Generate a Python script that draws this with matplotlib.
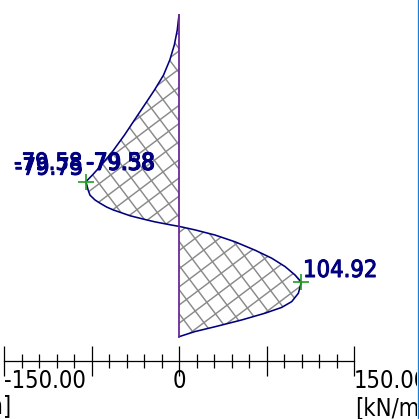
"""
Lateral load distribution along a pile: hatched diagram with extreme
values marked and a horizontal force scale underneath.
"""
import matplotlib
matplotlib.use("Agg")
import matplotlib.pyplot as plt
import matplotlib.patheffects as pe
import numpy as np
from matplotlib.collections import LineCollection
from matplotlib.lines import Line2D
from matplotlib.patches import Rectangle
from matplotlib.path import Path
from matplotlib.ticker import MultipleLocator, FixedLocator

# --- Diagram data: depth along the member [m] and load value [kN/m] ---
depth = [0.00, 0.47, 0.93, 1.40, 1.87, 2.33, 2.80, 3.26, 3.73, 4.20,
         4.66, 4.97, 5.18, 5.44, 5.60, 5.75, 5.85, 5.97, 6.06, 6.15,
         6.24, 6.37, 6.43, 6.48, 6.53, 6.57,
         6.68, 6.84, 7.05, 7.31, 7.56, 7.82, 8.08, 8.30, 8.65, 8.91,
         9.09, 9.27, 9.48, 9.69, 9.84, 10.00]
load = [0.0, -1.5, -4.0, -7.9, -13.3, -21.0, -29.6, -38.1, -46.7, -56.1,
        -66.4, -74.1, -79.75, -77.9, -76.3, -72.0, -67.7, -62.0, -56.3, -49.1,
        -42.0, -27.7, -20.6, -13.5, -6.3, 0.0,
        13.7, 30.9, 48.0, 65.1, 79.5, 90.9, 99.4, 104.92, 102.3, 96.6,
        88.0, 73.7, 53.7, 30.9, 13.7, 0.0]

member_top = 0.0
member_bottom = 10.0

# extreme points (value, depth) and the value labels printed next to them
extreme_value = [-79.75, 104.92]
extreme_depth = [5.18, 8.30]
min_labels = ["-79.58", "-79.75", "-79.58", "-79.38"]
max_labels = ["104.92"]

# scale axis
scale_ticks = [-150, -75, 0, 75, 150]
scale_labels = ["-150.00", "", "0", "", "150.00"]
unit_x = "[kN/m]"
unit_y = "[m]"

# --- styling ---
W = H = 419
DPI = 100
NAVY = "#000080"
MEMBER = "#6a2a9a"
HATCH = "#8a8a8a"
MARK = "#1f9e1f"
FONT = dict(family="DejaVu Sans", stretch="condensed", size=17)
HEAVY = [pe.withStroke(linewidth=0.7, foreground=NAVY)]

# pixel layout helpers
X_LEFT, X_RIGHT = 4, 354          # pixel columns of -150 and +150
TOP_PX, PX_PER_M = 15, 32.17      # member top row and vertical scale
AXIS_ROW = 361                    # row of the scale axis line
HATCH_ANGLES = (37, -53)          # degrees, crossing grid
HATCH_STEP = 14.5                 # pixels between parallel hatch lines

fig = plt.figure(figsize=(W / DPI, H / DPI), dpi=DPI)
fig.patch.set_facecolor("white")

ax = fig.add_axes([X_LEFT / W, 0, (X_RIGHT - X_LEFT) / W, 1])
ax.set_xlim(-150, 150)
ax.set_ylim((H - TOP_PX) / PX_PER_M, -TOP_PX / PX_PER_M)
ax.axis("off")

# area between member axis and diagram, used as clip region for the hatch
area = ax.fill_betweenx(depth, 0, load, facecolor="none", edgecolor="none",
                        linewidth=0)
clip = Path.make_compound_path(*area.get_paths())


def hatch_lines(angle_deg, step):
    """Parallel line segments over the whole figure, in figure fraction."""
    a = np.radians(angle_deg)
    d = np.array([np.cos(a), np.sin(a)])
    n = np.array([-np.sin(a), np.cos(a)])
    c = np.array([W / 2, H / 2])
    segs = []
    for k in np.arange(-45, 46):
        p = c + k * step * n
        p0, p1 = p - 400 * d, p + 400 * d
        segs.append([(p0[0] / W, p0[1] / H), (p1[0] / W, p1[1] / H)])
    return segs


for ang in HATCH_ANGLES:
    lc = LineCollection(hatch_lines(ang, HATCH_STEP), colors=HATCH,
                        linewidths=1.05, transform=fig.transFigure)
    lc.set_clip_path(clip, ax.transData)
    ax.add_collection(lc, autolim=False)

ax.plot(load, depth, color=NAVY, linewidth=1.15, solid_joinstyle="round")
ax.plot([0, 0], [member_top, member_bottom], color=MEMBER, linewidth=1.3)

# extreme markers
ax.plot(extreme_value, extreme_depth, linestyle="none", marker="+",
        markersize=12, markeredgewidth=1.2, color=MARK)

# value labels around the minimum (overlapping, as printed per element end)
xm, ym = extreme_value[0], extreme_depth[0]
min_offsets = [(-2.5, 8.5, "right"), (-2.0, 5.0, "right"),
               (0.0, 8.5, "left"), (0.5, 8.5, "left")]
for txt, (dx, dy, ha) in zip(min_labels, min_offsets):
    ax.annotate(txt, (xm, ym), xytext=(dx, dy), textcoords="offset points",
                ha=ha, va="baseline", color=NAVY, path_effects=HEAVY, **FONT)

ax.annotate(max_labels[0], (extreme_value[1], extreme_depth[1]),
            xytext=(1.2, 3.6), textcoords="offset points",
            ha="left", va="baseline", color=NAVY, path_effects=HEAVY, **FONT)

# --- horizontal force scale ---
sx = fig.add_axes([X_LEFT / W, 1 - AXIS_ROW / H, (X_RIGHT - X_LEFT) / W, 0.0001])
sx.set_xlim(-150, 150)
sx.set_facecolor("none")
for side in ("left", "right", "top"):
    sx.spines[side].set_visible(False)
sx.spines["bottom"].set_linewidth(0.9)
sx.set_yticks([])
sx.xaxis.set_major_locator(FixedLocator(scale_ticks))
sx.xaxis.set_minor_locator(MultipleLocator(15))
sx.set_xticklabels(scale_labels, color="black", **FONT)
sx.tick_params(axis="x", which="major", direction="inout", length=21,
               width=0.9, pad=-4.6)
sx.tick_params(axis="x", which="minor", direction="inout", length=10,
               width=0.9)
for lbl, ha in zip(sx.get_xticklabels(), ["left", "center", "center", "center", "left"]):
    lbl.set_ha(ha)

fig.text(355 / W, 1 - 396 / H, unit_x, ha="left", va="top", color="black", **FONT)
fig.text(11 / W, 1 - 394 / H, unit_y, ha="right", va="top", color="black", **FONT)

# window border on the right edge
fig.add_artist(Rectangle((417 / W, 0), 2 / W, 1, transform=fig.transFigure,
                         facecolor="#f0f0f0", edgecolor="none", zorder=5))
fig.add_artist(Line2D([417.5 / W, 417.5 / W], [0, 1], color="#1a7fd6",
                      linewidth=0.8, zorder=6))

fig.savefig("out.png", dpi=DPI, facecolor="white")
